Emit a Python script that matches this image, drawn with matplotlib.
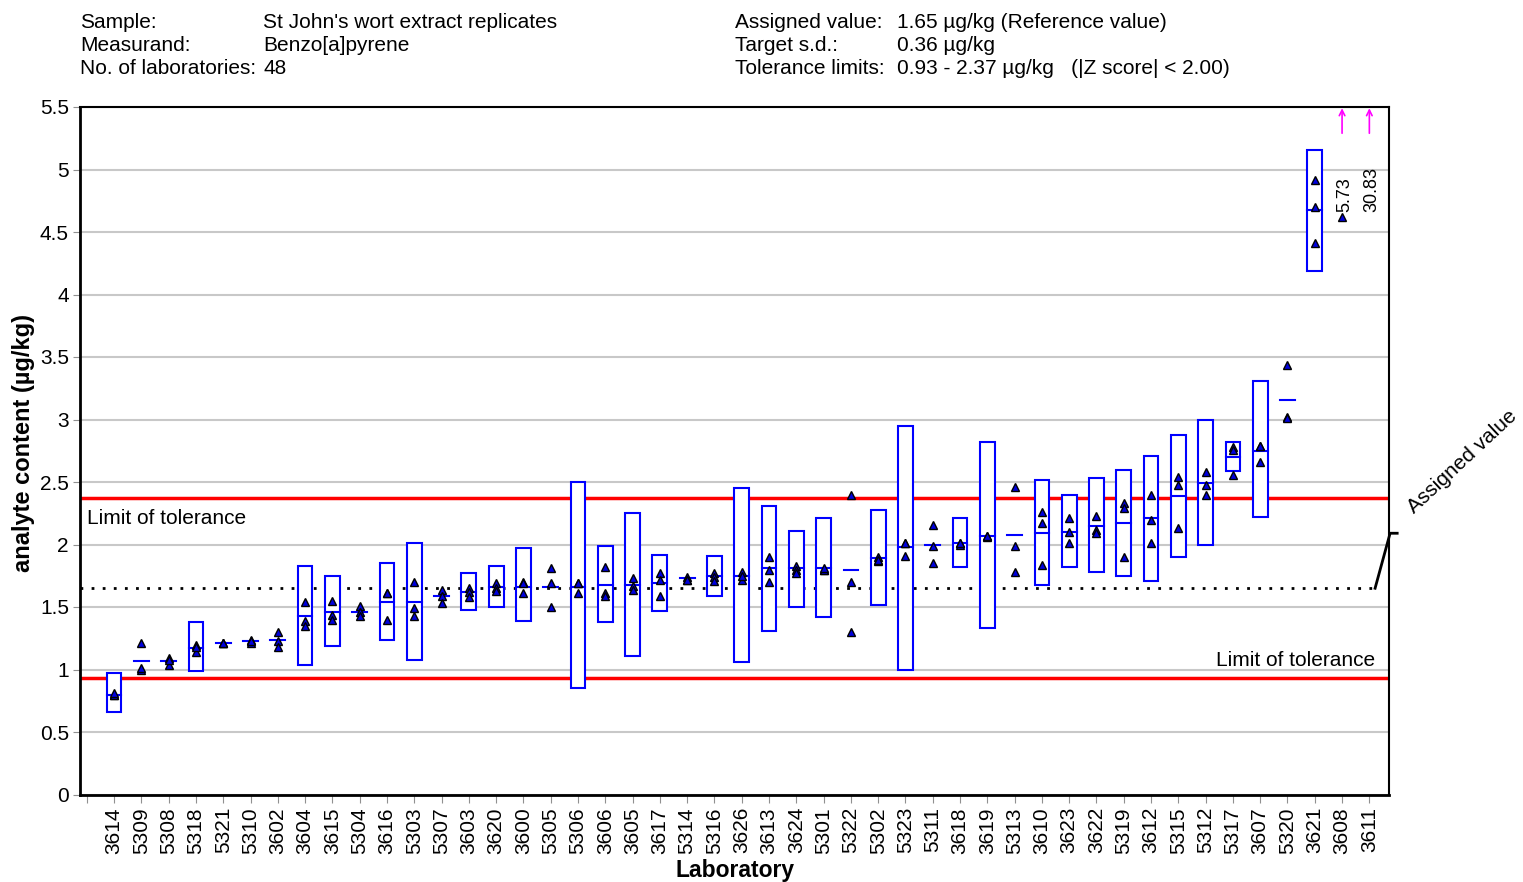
import numpy as np
import matplotlib.pyplot as plt
from matplotlib.patches import Rectangle

plt.rcParams['font.family'] = ['Liberation Sans', 'DejaVu Sans']

# laboratories in plotted order (first tick position has no label)
labs = ["3614", "5309", "5308", "5318", "5321", "5310", "3602", "3604", "3615", "5304",
        "3616", "5303", "5307", "3603", "3620", "3600", "5305", "5306", "3606", "3605",
        "3617", "5314", "5316", "3626", "3613", "3624", "5301", "5322", "5302", "5323",
        "5311", "3618", "3619", "5313", "3610", "3623", "3622", "5319", "3612", "5315",
        "5312", "5317", "3607", "5320", "3621", "3608", "3611"]

means = [0.80, 1.07, 1.07, 1.17, 1.21, 1.23, 1.24, 1.43, 1.46, 1.46,
         1.54, 1.54, 1.59, 1.62, 1.66, 1.66, 1.66, 1.66, 1.68, 1.68,
         1.69, 1.73, 1.75, 1.75, 1.81, 1.81, 1.81, 1.80, 1.89, 1.98,
         2.00, 2.01, 2.07, 2.08, 2.09, 2.10, 2.15, 2.17, 2.21, 2.39,
         2.49, 2.70, 2.75, 3.16, 4.68, 5.73, 30.83]

nan = np.nan
box_lo = [0.66, nan, nan, 0.99, nan, nan, nan, 1.04, 1.19, nan,
          1.24, 1.08, nan, 1.48, 1.50, 1.39, nan, 0.85, 1.38, 1.11,
          1.47, nan, 1.59, 1.06, 1.31, 1.50, 1.42, nan, 1.52, 1.00,
          nan, 1.82, 1.33, nan, 1.68, 1.82, 1.78, 1.75, 1.71, 1.90,
          2.00, 2.59, 2.22, nan, 4.19, nan, nan]
box_hi = [0.97, nan, nan, 1.38, nan, nan, nan, 1.83, 1.75, nan,
          1.85, 2.01, nan, 1.77, 1.83, 1.97, nan, 2.50, 1.99, 2.25,
          1.92, nan, 1.91, 2.45, 2.31, 2.11, 2.21, nan, 2.28, 2.95,
          nan, 2.21, 2.82, nan, 2.52, 2.40, 2.53, 2.60, 2.71, 2.88,
          3.00, 2.82, 3.31, nan, 5.16, nan, nan]

replicates = [[0.80, 0.80, 0.81], [1.21, 1.00, 1.01], [1.09, 1.04, 1.08], [1.20, 1.14, 1.18],
              [1.21, 1.21, 1.21], [1.24, 1.21, 1.23], [1.30, 1.23, 1.18], [1.54, 1.39, 1.35],
              [1.55, 1.44, 1.40], [1.51, 1.46, 1.43], [1.61, 1.40, 1.61], [1.70, 1.49, 1.43],
              [1.64, 1.59, 1.53], [1.65, 1.62, 1.58], [1.69, 1.65, 1.63], [1.70, 1.61, 1.69],
              [1.81, 1.69, 1.50], [1.69, 1.61, 1.69], [1.82, 1.61, 1.59], [1.73, 1.67, 1.64],
              [1.77, 1.72, 1.59], [1.74, 1.72, 1.72], [1.77, 1.74, 1.71], [1.78, 1.72, 1.75],
              [1.90, 1.80, 1.70], [1.83, 1.80, 1.77], [1.80, 1.80, 1.81], [2.40, 1.70, 1.30],
              [1.90, 1.87, 1.88], [2.01, 1.91, 2.01], [2.16, 1.99, 1.85], [2.01, 2.00, 2.01],
              [2.07, 2.06, 2.07], [2.46, 1.99, 1.78], [2.26, 2.17, 1.84], [2.21, 2.10, 2.01],
              [2.23, 2.12, 2.09], [2.33, 2.29, 1.90], [2.40, 2.20, 2.01], [2.54, 2.48, 2.13],
              [2.58, 2.48, 2.40], [2.78, 2.76, 2.56], [2.79, 2.66, 2.79], [3.44, 3.02, 3.01],
              [4.92, 4.70, 4.41], [4.62], []]

assigned = 1.65
tol_lo, tol_hi = 0.93, 2.37
ymax = 5.5

fig = plt.figure(figsize=(15.23, 8.82), dpi=100)
ax = fig.add_axes([80 / 1523, 1 - 794.5 / 882, 1309 / 1523, 687.5 / 882])

ax.set_xlim(-0.25, 47.72)
ax.set_ylim(0, ymax)
ax.set_yticks(np.arange(0, 5.51, 0.5))
ax.set_yticklabels(["%g" % v for v in np.arange(0, 5.51, 0.5)])
ax.set_xticks(range(len(labs) + 1))
ax.set_xticklabels([""] + labs, rotation=90)
ax.tick_params(axis="x", length=6, color="#909090", pad=3, labelsize=15)
ax.tick_params(axis="y", length=5, color="#909090", pad=3, labelsize=15)

ax.yaxis.grid(True, color="#c8c8c8", lw=1.5, zorder=0)
ax.set_axisbelow(True)

for s in ["left", "bottom"]:
    ax.spines[s].set_linewidth(2)
for s in ["top", "right"]:
    ax.spines[s].set_linewidth(1.5)

# tolerance and assigned value lines
ax.axhline(tol_hi, color="#ff0000", lw=2.5, zorder=2)
ax.axhline(tol_lo, color="#ff0000", lw=2.5, zorder=2)
ax.plot([-0.25, 47.21], [assigned, assigned], color="black", lw=2,
        linestyle=(0, (1, 3)), zorder=2)

w = 0.54
for i, lab in enumerate(labs):
    x = i + 1
    m = means[i]
    if not np.isnan(box_lo[i]):
        ax.add_patch(Rectangle((x - w / 2, box_lo[i]), w, box_hi[i] - box_lo[i],
                               facecolor="white", edgecolor="#0000ff", lw=1.5, zorder=3))
    if m <= ymax:
        ax.plot([x - w / 2, x + w / 2], [m, m], color="#0000ff", lw=1.5, zorder=4)
    else:
        ax.annotate("", xy=(x, 5.49), xytext=(x, 5.29),
                    arrowprops=dict(arrowstyle="->", color="#ff00ff", lw=1.2,
                                    shrinkA=0, shrinkB=0),
                    annotation_clip=False)
        ax.text(x + 0.1, 4.66, "%.2f" % m, rotation=90, ha="center", va="bottom",
                fontsize=13, zorder=6)
    if replicates[i]:
        ax.plot([x] * len(replicates[i]), replicates[i], linestyle="none", marker="^",
                markersize=5.5, markerfacecolor="#0000dd", markeredgecolor="black",
                markeredgewidth=1, zorder=5)

ax.text(0.02, 2.16, "Limit of tolerance", fontsize=15, ha="left", va="baseline", zorder=6)
ax.text(47.2, 1.03, "Limit of tolerance", fontsize=15, ha="right", va="baseline", zorder=6)

# assigned value leader
ax.plot([47.21, 47.76, 48.02], [assigned, 2.09, 2.09], color="black", lw=2, clip_on=False)
ax.text(48.75, 2.22, "Assigned value", rotation=43, rotation_mode="anchor",
        ha="left", va="bottom", fontsize=15)

fig.text(24 / 1523, 1 - 443 / 882, "analyte content (µg/kg)", rotation=90,
         ha="center", va="center", fontsize=17, fontweight="bold")
fig.text(735 / 1523, 1 - 877 / 882, "Laboratory", ha="center", va="baseline",
         fontsize=16.5, fontweight="bold")

# header block
left_keys = ["Sample:", "Measurand:", "No. of laboratories:"]
left_vals = ["St John's wort extract replicates", "Benzo[a]pyrene", "48"]
right_keys = ["Assigned value:", "Target s.d.:", "Tolerance limits:"]
right_vals = ["1.65 µg/kg (Reference value)", "0.36 µg/kg",
              "0.93 - 2.37 µg/kg   (|Z score| < 2.00)"]
for j in range(3):
    yb = 1 - (28 + 23 * j) / 882
    fig.text(80 / 1523, yb, left_keys[j], fontsize=15, va="baseline")
    fig.text(263 / 1523, yb, left_vals[j], fontsize=15, va="baseline")
    fig.text(735 / 1523, yb, right_keys[j], fontsize=15, va="baseline")
    fig.text(897 / 1523, yb, right_vals[j], fontsize=15, va="baseline")

fig.savefig("out.png", dpi=100)
